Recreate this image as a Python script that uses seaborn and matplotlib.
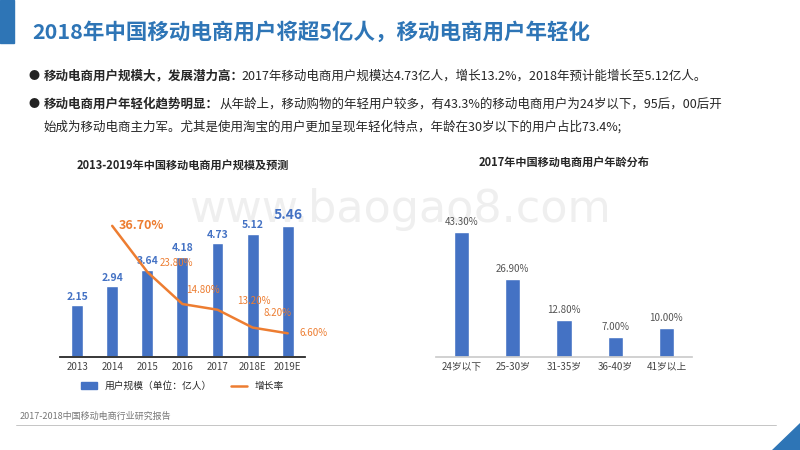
import seaborn as sns
import matplotlib.pyplot as plt
import pandas as pd
from matplotlib.patches import Polygon, Patch

years = ["2013", "2014", "2015", "2016", "2017", "2018E", "2019E"]
users = [2.15, 2.94, 3.64, 4.18, 4.73, 5.12, 5.46]
growth_years = ["2014", "2015", "2016", "2017", "2018E", "2019E"]
growth = [36.7, 23.8, 14.8, 13.2, 8.2, 6.6]

ages = ["24岁以下", "25-30岁", "31-35岁", "36-40岁", "41岁以上"]
age_share = [43.3, 26.9, 12.8, 7.0, 10.0]

BLUE = "#4472c4"
ORANGE = "#ed7d31"
TITLE_C = "#2e75b6"

sns.set_theme(style="white")
plt.rcParams['font.family'] = ['Noto Sans CJK SC', 'DejaVu Sans']

fig = plt.figure(figsize=(8, 4.5), dpi=100)
fig.patch.set_facecolor("white")

# header / footer decoration
fig.patches.append(Polygon([[0, 1], [0.018, 1], [0.018, 0.905], [0, 0.905]], closed=True,
                           transform=fig.transFigure, color=TITLE_C))
fig.patches.append(Polygon([[0.965, 0], [1, 0], [1, 0.06]], closed=True,
                           transform=fig.transFigure, color=TITLE_C))
fig.lines.append(plt.Line2D([0.02, 0.97], [0.055, 0.055], transform=fig.transFigure,
                            color="#bbbbbb", lw=0.6))
fig.text(0.04, 0.928, "2018年中国移动电商用户将超5亿人，移动电商用户年轻化",
         fontsize=15.5, fontweight="bold", color=TITLE_C, va="center")
fig.text(0.025, 0.07, "2017-2018中国移动电商行业研究报告", fontsize=6.5, color="#777777")

fig.text(0.035, 0.831, "●", fontsize=8, color="#222222", va="center")
fig.text(0.055, 0.831, "移动电商用户规模大，发展潜力高：", fontsize=9, fontweight="bold", va="center")
fig.text(0.302, 0.831, "2017年移动电商用户规模达4.73亿人，增长13.2%，2018年预计能增长至5.12亿人。",
         fontsize=9, va="center")
fig.text(0.035, 0.768, "●", fontsize=8, color="#222222", va="center")
fig.text(0.055, 0.768, "移动电商用户年轻化趋势明显：", fontsize=9, fontweight="bold", va="center")
fig.text(0.275, 0.768, "从年龄上，移动购物的年轻用户较多，有43.3%的移动电商用户为24岁以下，95后，00后开",
         fontsize=9, va="center")
fig.text(0.055, 0.718, "始成为移动电商主力军。尤其是使用淘宝的用户更加呈现年轻化特点，年龄在30岁以下的用户占比73.4%;",
         fontsize=9, va="center")

fig.text(0.5, 0.535, "www.baogao8.com", fontsize=32, color="#efefef", ha="center", va="center",
         zorder=-5, family="DejaVu Sans")

# left chart
ax1 = fig.add_axes([0.075, 0.207, 0.306, 0.349])
ax1.patch.set_visible(False)
df1 = pd.DataFrame({"year": years, "users": users})
sns.barplot(data=df1, x="year", y="users", color=BLUE, width=0.34, ax=ax1, saturation=1)
ax1.set_ylim(0, 6.55)
for i, v in enumerate(users):
    fs = 10 if i == len(users) - 1 else 7.5
    ax1.text(i, v + 0.15, f"{v:.2f}", ha="center", va="bottom", color=BLUE,
             fontsize=fs, fontweight="bold")
ax2 = ax1.twinx()
ax2.patch.set_visible(False)
xi = [years.index(y) for y in growth_years]
ax2.plot(xi, growth, color=ORANGE, lw=1.8)
ax2.set_ylim(0, 44)
offs = [(0.2, 0), (0.35, 2.5), (0.1, 4.0), (0.55, 2.5), (0.3, 4.0), (0.35, 0)]
for k, (x, g) in enumerate(zip(xi, growth)):
    dx, dy = offs[k]
    ax2.text(x + dx, g + dy, f"{g:.2f}%", color=ORANGE,
             fontsize=9 if k == 0 else 7, fontweight="bold" if k == 0 else "normal",
             ha="left", va="center")
for a in (ax1, ax2):
    a.set_yticks([])
    a.set_ylabel("")
    for s in ["top", "left", "right"]:
        a.spines[s].set_visible(False)
ax1.spines["bottom"].set_color("#cccccc")
ax1.set_xlabel("")
ax1.tick_params(axis="x", labelsize=7, colors="#444444", length=0)
ax1.set_title("2013-2019年中国移动电商用户规模及预测", fontsize=8, fontweight="bold", pad=22)
handles = [Patch(color=BLUE, label="用户规模（单位：亿人）"),
           plt.Line2D([], [], color=ORANGE, lw=1.8, label="增长率")]
ax1.legend(handles=handles, loc="upper center", bbox_to_anchor=(0.5, -0.1), ncol=2,
           frameon=False, fontsize=7, handlelength=1.6)

# right chart
ax3 = fig.add_axes([0.545, 0.207, 0.32, 0.32])
ax3.patch.set_visible(False)
df2 = pd.DataFrame({"age": ages, "share": age_share})
sns.barplot(data=df2, x="age", y="share", color=BLUE, width=0.3, ax=ax3, saturation=1)
ax3.set_ylim(0, 50)
for i, v in enumerate(age_share):
    ax3.text(i, v + 1.8, f"{v:.2f}%", ha="center", va="bottom", color="#555555", fontsize=7)
ax3.set_yticks([])
ax3.set_ylabel("")
ax3.set_xlabel("")
for s in ["top", "left", "right"]:
    ax3.spines[s].set_visible(False)
ax3.spines["bottom"].set_color("#cccccc")
ax3.tick_params(axis="x", labelsize=7, colors="#444444", length=0)
ax3.set_title("2017年中国移动电商用户年龄分布", fontsize=8, fontweight="bold", pad=34)

fig.savefig("out.png", dpi=100)
